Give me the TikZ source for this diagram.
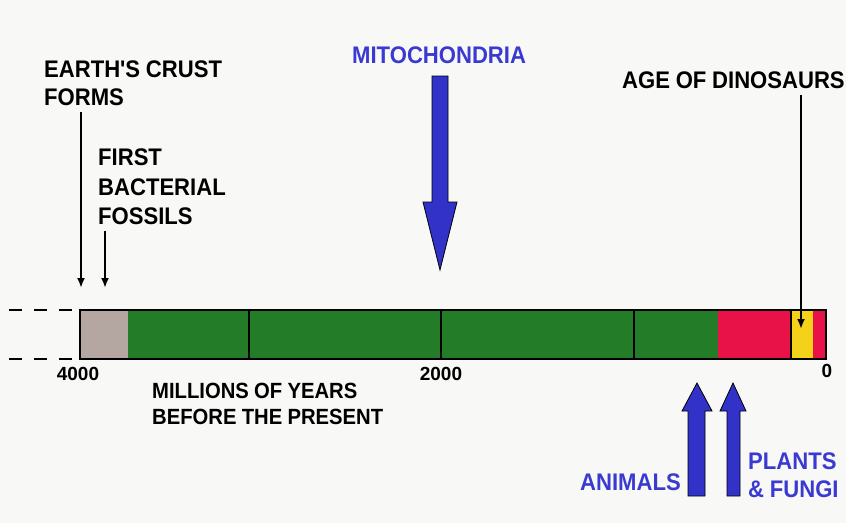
\documentclass[tikz,border=0pt]{standalone}
\usepackage{fontspec}
\setmainfont{Liberation Sans}
\newfontfamily\labf[FakeStretch=0.92]{Liberation Sans}
\usetikzlibrary{arrows.meta}
\definecolor{bg}{RGB}{248,248,246}
\definecolor{bargreen}{RGB}{35,125,40}
\definecolor{barred}{RGB}{232,18,72}
\definecolor{baryellow}{RGB}{245,210,26}
\definecolor{bargray}{RGB}{180,166,160}
\definecolor{arrowblue}{RGB}{50,50,200}
\definecolor{textblue}{RGB}{58,58,210}
\newcommand{\tightsp}{\spaceskip=0.24em plus 0.05em\relax}
\tikzset{
  lbl/.style={anchor=base west, inner sep=0pt, font=\labf\bfseries\fontsize{24}{24}\selectfont\tightsp},
  smlbl/.style={anchor=base west, inner sep=0pt, font=\labf\bfseries\fontsize{22}{22}\selectfont\tightsp},
  numlbl/.style={anchor=base, inner sep=0pt, font=\bfseries\fontsize{19}{19}\selectfont},
  bluelbl/.style={lbl, text=textblue},
  ptr/.style={line width=2.6pt, -{Latex[length=10pt,width=8pt]}},
  blockarrow/.style={fill=arrowblue, draw=black, line width=0.8pt},
  dashline/.style={line width=2.8pt, dash pattern=on 13pt off 12pt},
  divider/.style={line width=2.8pt}
}
\begin{document}
\begin{tikzpicture}[x=1pt,y=-1pt]
\fill[bg] (0,0) rectangle (846,523);
\useasboundingbox (0,0) rectangle (846,523);

% bar segments
\fill[bargray] (80,310) rectangle (128,359);
\fill[bargreen] (128,310) rectangle (718,359);
\fill[barred] (718,310) rectangle (826,359);
\fill[baryellow] (791,310) rectangle (813,359);
\draw[divider] (249,310) -- (249,359);
\draw[divider] (441,310) -- (441,359);
\draw[divider] (634,310) -- (634,359);
\draw[line width=1.2pt] (791,310) -- (791,359);
\draw[line width=2.8pt] (80,310) rectangle (826,359);

% dashed extensions
\draw[dashline] (9,310) -- (78,310);
\draw[dashline] (9,359) -- (78,359);

% scale numbers
\node[numlbl] (n4000) at (78,380) {4000};
\node[numlbl] (n2000) at (441,380) {2000};
\node[numlbl] (n0) at (827,377) {0};

\node[smlbl] (mill1) at (152,398) {MILLIONS OF YEARS};
\node[smlbl] (mill2) at (152,424) {BEFORE THE PRESENT};

% black labels and pointers
\node[lbl] (crust1) at (44,77) {EARTH'S CRUST};
\node[lbl] (crust2) at (44,105) {FORMS};
\coordinate (crustTop) at (81,112);
\coordinate (crustTip) at (81,288);
\draw[ptr] (crustTop) -- (crustTip);

\node[lbl] (bact1) at (98,165) {FIRST};
\node[lbl] (bact2) at (98,195) {BACTERIAL};
\node[lbl] (bact3) at (98,224) {FOSSILS};
\coordinate (bactTop) at (105,231);
\coordinate (bactTip) at (105,288);
\draw[ptr] (bactTop) -- (bactTip);

\node[lbl] (dino) at (622,88) {AGE OF DINOSAURS};
\coordinate (dinoTop) at (801,95);
\coordinate (dinoTip) at (801,329);
\draw[ptr] (dinoTop) -- (dinoTip);

% blue labels and block arrows
\node[bluelbl] (mito) at (352,63) {MITOCHONDRIA};
\draw[blockarrow] (432,76) -- (448,76) -- (448,202) -- (457,202) -- (440,270) -- (423,202) -- (432,202) -- cycle;

\node[bluelbl] (animals) at (580,490) {ANIMALS};
\draw[blockarrow] (688,496) -- (688,411) -- (682,411) -- (697,383) -- (712,411) -- (705,411) -- (705,496) -- cycle;

\node[bluelbl] (plants1) at (748,469) {PLANTS};
\node[bluelbl] (plants2) at (748,497) {\& FUNGI};
\draw[blockarrow] (727,496) -- (727,411) -- (720,411) -- (733,383) -- (746,411) -- (740,411) -- (740,496) -- cycle;
\end{tikzpicture}
\end{document}
